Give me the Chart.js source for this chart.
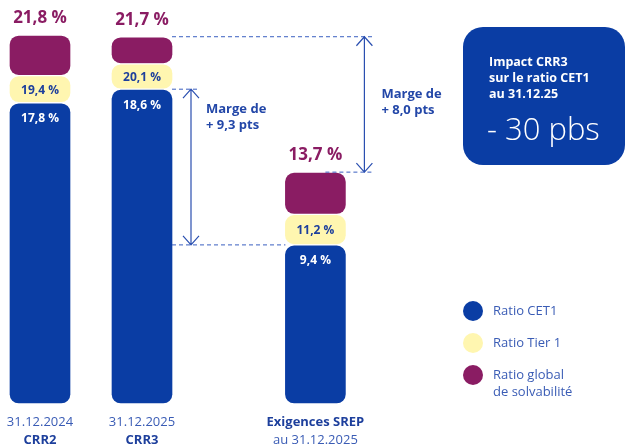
<!DOCTYPE html>
<html>
<head>
<meta charset="utf-8">
<script src="https://cdn.jsdelivr.net/npm/chart.js@4"></script>
<style>
  html, body { margin: 0; padding: 0; background: #fff; }
  #wrap { width: 625px; height: 447px; position: relative; }
</style>
</head>
<body>
<div id="wrap"><canvas id="chart"></canvas></div>
<script>
// DATA
const categories = [["31.12.2024", "CRR2"], ["31.12.2025", "CRR3"], ["Exigences SREP", "au 31.12.2025"]];
const cet1 = [17.8, 18.6, 9.4];
const tier1 = [19.4, 20.1, 11.2];
const globalRatio = [21.8, 21.7, 13.7];
const seriesNames = [["Ratio CET1"], ["Ratio Tier 1"], ["Ratio global", "de solvabilité"]];
const margins = [9.3, 8.0];
const impactTitle = ["Impact CRR3", "sur le ratio CET1", "au 31.12.25"];
const impactValue = "- 30 pbs";

// layout
const slotX = [0, 1, 2.7];
const BLUE = "#0a3da4";
const YELLOW = "#fff6b0";
const PURPLE = "#8a1c63";
const TEXT_BLUE = "#2347a8";
const LINE_BLUE = "#3a5fc0";
const FONT = "'Open Sans', sans-serif";
const BAR_W = 62;

const fmt = (v) => v.toFixed(1).replace(".", ",") + " %";
const radius = { topLeft: 10, topRight: 10, bottomLeft: 10, bottomRight: 10 };

function floatData(lo, hi) {
  return slotX.map((x, i) => ({ x, y: [lo ? lo[i] : 0, hi[i]] }));
}

function arrow(ctx, x, y1, y2) {
  ctx.beginPath();
  ctx.moveTo(x, y1);
  ctx.lineTo(x, y2);
  ctx.moveTo(x - 8, y1 + 9);
  ctx.lineTo(x, y1);
  ctx.lineTo(x + 8, y1 + 9);
  ctx.moveTo(x - 8, y2 - 9);
  ctx.lineTo(x, y2);
  ctx.lineTo(x + 8, y2 - 9);
  ctx.stroke();
}

function dashed(ctx, x1, x2, yy) {
  ctx.save();
  ctx.setLineDash([4, 3]);
  ctx.beginPath();
  ctx.moveTo(x1, yy);
  ctx.lineTo(x2, yy);
  ctx.stroke();
  ctx.restore();
}

const overlay = {
  id: "overlay",
  afterDatasetsDraw(chart) {
    const { ctx, scales: { x, y } } = chart;
    const half = BAR_W / 2;
    ctx.save();
    ctx.textAlign = "center";
    ctx.textBaseline = "middle";

    slotX.forEach((sx, i) => {
      const cx = x.getPixelForValue(sx);
      ctx.fillStyle = PURPLE;
      ctx.font = "bold 17px " + FONT;
      ctx.fillText(fmt(globalRatio[i]), cx, y.getPixelForValue(globalRatio[i]) - 17);
      ctx.fillStyle = "#1d3f9c";
      ctx.font = "bold 12px " + FONT;
      ctx.fillText(fmt(tier1[i]), cx, (y.getPixelForValue(cet1[i]) + y.getPixelForValue(tier1[i])) / 2 + 1);
      ctx.fillStyle = "#fff";
      ctx.fillText(fmt(cet1[i]), cx, y.getPixelForValue(cet1[i]) + 16);
    });

    // margin annotations
    const b2r = x.getPixelForValue(slotX[1]) + half - 1;
    const b3l = x.getPixelForValue(slotX[2]) - half + 1;
    const b3r = x.getPixelForValue(slotX[2]) + half - 1;
    const a1 = b2r + 19;
    const a2 = b3r + 19;
    const yTop2 = y.getPixelForValue(globalRatio[1]);
    const yCet2 = y.getPixelForValue(cet1[1]);
    const yTop3 = y.getPixelForValue(globalRatio[2]);
    const yCet3 = y.getPixelForValue(cet1[2]);

    ctx.strokeStyle = LINE_BLUE;
    ctx.lineWidth = 1;
    dashed(ctx, b2r, a2 + 9, yTop2);
    dashed(ctx, b2r, a1 + 9, yCet2);
    dashed(ctx, b2r, b3l, yCet3);
    dashed(ctx, b3r - 20, a2 + 9, yTop3);

    ctx.strokeStyle = "#2a4fb0";
    ctx.lineWidth = 1.2;
    arrow(ctx, a1, yCet2, yCet3);
    arrow(ctx, a2, yTop2, yTop3);

    ctx.fillStyle = TEXT_BLUE;
    ctx.font = "bold 13px " + FONT;
    ctx.textAlign = "left";
    const m = (v) => "+ " + v.toFixed(1).replace(".", ",") + " pts";
    ctx.fillText("Marge de", a1 + 15, yCet2 + 20);
    ctx.fillText(m(margins[0]), a1 + 15, yCet2 + 36);
    ctx.fillText("Marge de", a2 + 17, yTop2 + 58);
    ctx.fillText(m(margins[1]), a2 + 17, yTop2 + 74);

    // impact box
    ctx.fillStyle = BLUE;
    ctx.beginPath();
    ctx.roundRect(463, 27, 162, 138, 20);
    ctx.fill();
    ctx.fillStyle = "#fff";
    ctx.font = "bold 12.5px " + FONT;
    impactTitle.forEach((t, k) => ctx.fillText(t, 489, 62 + k * 16));
    ctx.font = "300 31px " + FONT;
    ctx.fillText(impactValue, 487, 131);

    // legend
    const colors = chart.data.datasets.map((d) => d.backgroundColor);
    seriesNames.forEach((lines, k) => {
      const ly = 311 + k * 32;
      ctx.fillStyle = colors[k];
      ctx.beginPath();
      ctx.arc(473, ly, 10, 0, Math.PI * 2);
      ctx.fill();
      ctx.fillStyle = "#3a5cb5";
      ctx.font = "13px " + FONT;
      lines.forEach((t, j) => ctx.fillText(t, 493, ly + j * 17));
    });
    ctx.restore();
  }
};

function xAxis(line, weight, pad, h) {
  return {
    type: "linear",
    position: "bottom",
    weight,
    offset: false,
    min: -40 / 102,
    max: (625 - 40) / 102,
    grid: { display: false, drawTicks: false, offset: false },
    border: { display: false },
    afterBuildTicks: (s) => { s.ticks = slotX.map((v) => ({ value: v })); },
    afterFit: (s) => {
      s.height = h;
      s.paddingLeft = 0;
      s.paddingRight = 0;
    },
    ticks: {
      autoSkip: false,
      maxRotation: 0,
      padding: pad,
      color: (c) => ((line === 0) === (c.index === 2) ? "#1d3f9c" : "#3a5cb5"),
      font: (c) => ({ family: FONT, size: 13, weight: (line === 0) === (c.index === 2) ? "bold" : "normal" }),
      callback: (v, i) => categories[i][line]
    }
  };
}

const common = {
  grouped: false,
  barThickness: BAR_W,
  borderWidth: 1,
  borderColor: "#fff",
  borderSkipped: false,
  borderRadius: radius
};

new Chart(document.getElementById("chart"), {
  type: "bar",
  data: {
    datasets: [
      { label: seriesNames[0].join(" "), data: floatData(null, cet1), backgroundColor: BLUE, ...common },
      { label: seriesNames[1].join(" "), data: floatData(cet1, tier1), backgroundColor: YELLOW, ...common },
      { label: seriesNames[2].join(" "), data: floatData(tier1, globalRatio), backgroundColor: PURPLE, ...common }
    ]
  },
  options: {
    responsive: true,
    maintainAspectRatio: false,
    animation: false,
    layout: { padding: 0 },
    plugins: { legend: { display: false }, tooltip: { enabled: false } },
    scales: {
      x: xAxis(0, 0, 10, 26),
      x2: xAxis(1, 1, 2, 17),
      y: { display: false, min: 0, max: 23.87 }
    }
  },
  plugins: [overlay]
});
</script>
</body>
</html>
